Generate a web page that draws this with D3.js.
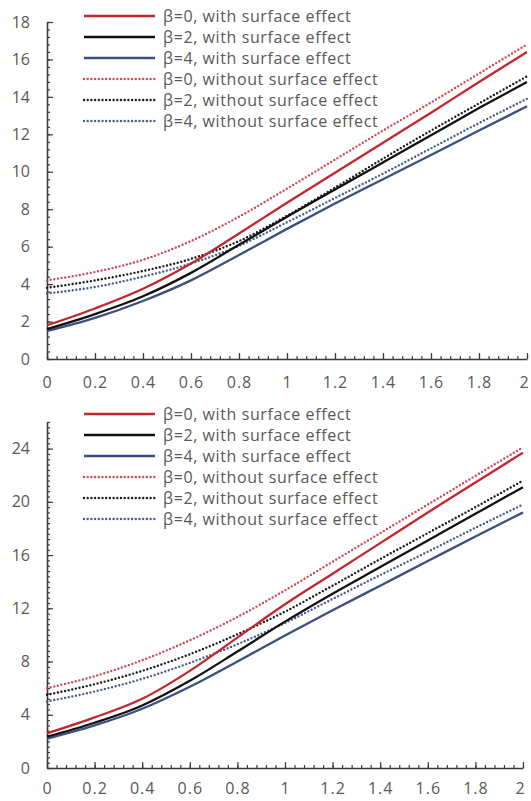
<!DOCTYPE html>
<html>
<head>
<meta charset="utf-8">
<script src="https://cdn.jsdelivr.net/npm/d3@7"></script>
<style>
  body { margin: 0; background: #fff; }
  text { font-family: "Open Sans", sans-serif; fill: #595959; }
</style>
</head>
<body>
<svg id="chart" width="531" height="801"></svg>
<script>
// x values shared by all curves
const xValues = [0, 0.2, 0.4, 0.6, 0.8, 1.0, 1.2, 1.4, 1.6, 1.8, 2.0];

const seriesNames = [
  "β=0, with surface effect",
  "β=2, with surface effect",
  "β=4, with surface effect",
  "β=0, without surface effect",
  "β=2, without surface effect",
  "β=4, without surface effect"
];

// top panel
const topB0With = [1.8, 2.7, 3.75, 5.1, 6.7, 8.35, 9.95, 11.55, 13.15, 14.8, 16.4];
const topB2With = [1.6, 2.4, 3.35, 4.6, 6.1, 7.6, 9.05, 10.5, 11.95, 13.4, 14.8];
const topB4With = [1.5, 2.2, 3.1, 4.2, 5.55, 6.95, 8.3, 9.6, 10.9, 12.2, 13.5];
const topB0Without = [4.2, 4.65, 5.3, 6.3, 7.6, 9.1, 10.65, 12.2, 13.7, 15.25, 16.8];
const topB2Without = [3.8, 4.2, 4.7, 5.35, 6.3, 7.65, 9.15, 10.7, 12.2, 13.65, 15.1];
const topB4Without = [3.5, 3.85, 4.4, 5.1, 6.05, 7.3, 8.6, 9.9, 11.25, 12.6, 13.9];

// bottom panel
const botB0With = [2.6, 3.8, 5.2, 7.3, 9.8, 12.3, 14.6, 16.9, 19.2, 21.45, 23.7];
const botB2With = [2.35, 3.4, 4.7, 6.55, 8.75, 11.0, 13.1, 15.1, 17.1, 19.1, 21.1];
const botB4With = [2.2, 3.2, 4.45, 6.1, 8.0, 9.95, 11.85, 13.7, 15.55, 17.4, 19.2];
const botB0Without = [6.0, 6.9, 8.1, 9.6, 11.35, 13.35, 15.5, 17.65, 19.8, 21.95, 24.1];
const botB2Without = [5.5, 6.3, 7.3, 8.55, 10.05, 11.75, 13.7, 15.7, 17.65, 19.6, 21.6];
const botB4Without = [5.0, 5.75, 6.7, 7.9, 9.3, 10.9, 12.7, 14.5, 16.25, 18.05, 19.8];

const xTicks = [0, 0.2, 0.4, 0.6, 0.8, 1, 1.2, 1.4, 1.6, 1.8, 2];
const topYTicks = [0, 2, 4, 6, 8, 10, 12, 14, 16, 18];
const botYTicks = [0, 4, 8, 12, 16, 20, 24];

const styles = [
  { color: "#c1272d", dash: null },
  { color: "#111111", dash: null },
  { color: "#3b4f80", dash: null },
  { color: "#cc4a50", dash: "0,3.7" },
  { color: "#1a1a1a", dash: "0,3.7" },
  { color: "#475c88", dash: "0,3.7" }
];

const svg = d3.select("#chart");

function drawPanel(opts) {
  const x = d3.scaleLinear().domain([0, 2]).range([47, opts.xRight]);
  const y = d3.scaleLinear().domain([0, opts.yMax]).range([opts.yBottom, opts.yTop]);
  const g = svg.append("g");

  // minor ticks
  const xMinor = d3.range(0, 2.0001, 0.04);
  const yMinor = d3.range(0, opts.yMax + 0.0001, 0.4);
  g.append("g")
    .attr("transform", `translate(0,${opts.yBottom})`)
    .call(d3.axisBottom(x).tickValues(xMinor).tickSize(-3).tickSizeOuter(0).tickFormat(""))
    .call(a => a.select(".domain").remove());
  g.append("g")
    .attr("transform", "translate(47,0)")
    .call(d3.axisLeft(y).tickValues(yMinor).tickSize(-3).tickSizeOuter(0).tickFormat(""))
    .call(a => a.select(".domain").remove());

  // major ticks + labels
  const xAxis = g.append("g")
    .attr("transform", `translate(0,${opts.yBottom})`)
    .call(d3.axisBottom(x).tickValues(xTicks).tickSize(-6).tickSizeOuter(0)
      .tickPadding(opts.xPad).tickFormat(d3.format("~g")));
  const yAxis = g.append("g")
    .attr("transform", "translate(47,0)")
    .call(d3.axisLeft(y).tickValues(opts.yTicks).tickSize(-6).tickSizeOuter(0).tickPadding(17));

  g.selectAll(".tick line").attr("stroke", "#3a3a3a").attr("stroke-width", 1.2);
  g.selectAll(".domain").attr("stroke", "#3a3a3a").attr("stroke-width", 1.6);
  g.selectAll(".tick text").attr("font-size", 16).style("fill", "#595959");
  xAxis.selectAll(".tick text").style("letter-spacing", "1px");
  // keep the last label inside the page
  xAxis.selectAll(".tick text").filter(d => d === 2).attr("dx", -3);

  const line = d3.line()
    .x((d, i) => x(xValues[i]))
    .y(d => y(d))
    .curve(d3.curveMonotoneX);

  // draw dotted first, then solid
  const order = [3, 4, 5, 2, 1, 0];
  order.forEach(i => {
    const s = styles[i];
    g.append("path")
      .datum(opts.series[i])
      .attr("fill", "none")
      .attr("stroke", s.color)
      .attr("stroke-width", s.dash ? 2.4 : 2.3)
      .attr("stroke-linecap", s.dash ? "round" : "butt")
      .attr("stroke-dasharray", s.dash)
      .attr("d", line);
  });

  // legend
  const legend = g.append("g").attr("class", "legend");
  seriesNames.forEach((name, i) => {
    const s = styles[i];
    const ly = opts.legendTop + i * 21;
    legend.append("line")
      .attr("x1", 84).attr("x2", 155)
      .attr("y1", ly).attr("y2", ly)
      .attr("stroke", s.color)
      .attr("stroke-width", s.dash ? 2.4 : 2.6)
      .attr("stroke-linecap", s.dash ? "round" : "butt")
      .attr("stroke-dasharray", s.dash);
    legend.append("text")
      .attr("x", 163).attr("y", ly)
      .attr("dy", "0.35em")
      .attr("font-size", 16)
      .style("letter-spacing", "0.6px")
      .text(name);
  });
}

drawPanel({
  xRight: 527, yBottom: 359, yTop: 22, yMax: 18, yTicks: topYTicks, xPad: 18,
  legendTop: 16,
  series: [topB0With, topB2With, topB4With, topB0Without, topB2Without, topB4Without]
});

drawPanel({
  xRight: 523, yBottom: 768, yTop: 422, yMax: 26, yTicks: botYTicks, xPad: 15,
  legendTop: 414,
  series: [botB0With, botB2With, botB4With, botB0Without, botB2Without, botB4Without]
});
</script>
</body>
</html>
